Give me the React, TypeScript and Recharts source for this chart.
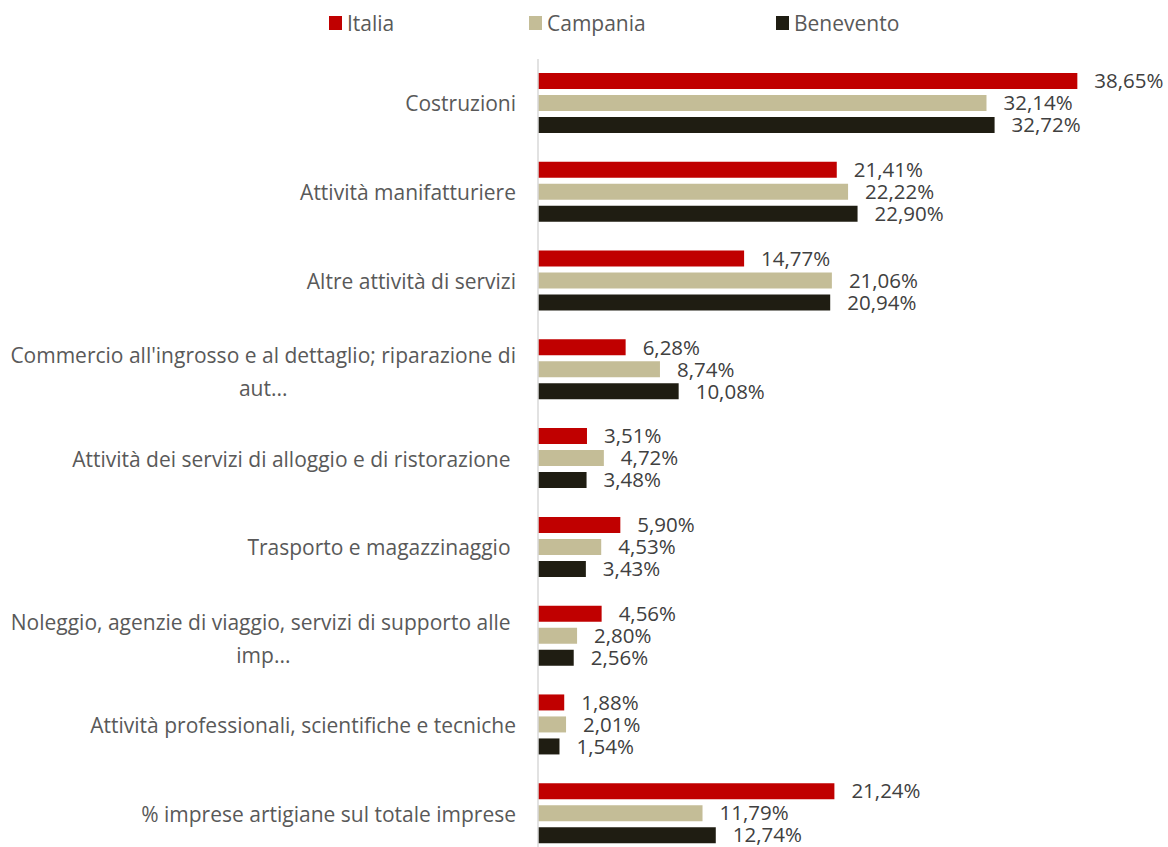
import React from "react"
import { BarChart, Bar, XAxis, YAxis, Legend, LabelList } from "recharts"

const categories = [
  "Costruzioni",
  "Attività manifatturiere",
  "Altre attività di servizi",
  "Commercio all'ingrosso e al dettaglio; riparazione di\naut...",
  "Attività dei servizi di alloggio e di ristorazione ",
  "Trasporto e magazzinaggio ",
  "Noleggio, agenzie di viaggio, servizi di supporto alle \nimp...",
  "Attività professionali, scientifiche e tecniche",
  "% imprese artigiane sul totale imprese",
]

const italia = [38.65, 21.41, 14.77, 6.28, 3.51, 5.9, 4.56, 1.88, 21.24]
const campania = [32.14, 22.22, 21.06, 8.74, 4.72, 4.53, 2.8, 2.01, 11.79]
const benevento = [32.72, 22.9, 20.94, 10.08, 3.48, 3.43, 2.56, 1.54, 12.74]

const seriesNames = ["Italia", "Campania", "Benevento"]
const colors = ["#c00000", "#c4bd97", "#1f1d12"]

const data = categories.map((name, i) => ({
  name,
  Italia: italia[i],
  Campania: campania[i],
  Benevento: benevento[i],
}))

const FONT = "'Open Sans', sans-serif"
const CAT_SIZE = 21
const VAL_SIZE = 20.5

let ctx: CanvasRenderingContext2D | null = null
function textWidth(s: string) {
  if (!ctx) {
    ctx = document.createElement("canvas").getContext("2d")
  }
  if (!ctx) return s.length * 10
  ctx.font = `${CAT_SIZE}px 'Open Sans'`
  return ctx.measureText(s).width
}

const fmt = (v: any) => Number(v).toFixed(2).replace(".", ",") + "%"

function CategoryTick(props: any) {
  const { x, y, payload } = props
  const lines = String(payload.value).split("\n")
  const common = {
    fontFamily: FONT,
    fontSize: CAT_SIZE,
    fill: "#595959",
    dominantBaseline: "central" as const,
    style: { whiteSpace: "pre" as const },
  }
  if (lines.length === 1) {
    return (
      <text x={x} y={y} textAnchor="end" {...common}>
        {lines[0]}
      </text>
    )
  }
  // wrapped label: block right-aligned to the axis, lines centred in it
  const blockW = Math.max(...lines.map(textWidth))
  const cx = x - blockW / 2
  const lh = 33
  const y0 = y + 2 - ((lines.length - 1) * lh) / 2
  return (
    <g>
      {lines.map((l, i) => (
        <text key={i} x={cx} y={y0 + i * lh} textAnchor="middle" {...common}>
          {l}
        </text>
      ))}
    </g>
  )
}

function LegendContent() {
  const widths = [200, 247, 200]
  return (
    <div style={{ height: 51, paddingLeft: 329, display: "flex", alignItems: "flex-start" }}>
      {seriesNames.map((s, i) => (
        <div key={s} style={{ width: widths[i], display: "flex", alignItems: "center", height: 30 }}>
          <span style={{ width: 13, height: 14, background: colors[i], display: "inline-block", marginRight: 5 }} />
          <span style={{ fontFamily: FONT, fontSize: CAT_SIZE, color: "#595959" }}>{s}</span>
        </div>
      ))}
    </div>
  )
}

export default function App() {
  return (
    <div style={{ position: "absolute", top: 0, left: 0, width: 1168, height: 847, overflow: "hidden", background: "#fff" }}>
      <BarChart
        width={1168}
        height={858}
        data={data}
        layout="vertical"
        margin={{ top: 8, right: 16, bottom: 0, left: 0 }}
        barGap={6}
        barSize={16}
      >
        <Legend verticalAlign="top" align="left" content={<LegendContent />} />
        <XAxis type="number" domain={[0, 44]} hide />
        <YAxis
          type="category"
          dataKey="name"
          width={538}
          interval={0}
          tickLine={false}
          tickMargin={16}
          axisLine={{ stroke: "#d9d9d9", strokeWidth: 1.5 }}
          tick={<CategoryTick />}
        />
        {seriesNames.map((s, i) => (
          <Bar key={s} dataKey={s} fill={colors[i]} isAnimationActive={false}>
            <LabelList
              dataKey={s}
              position="right"
              offset={17}
              formatter={fmt}
              style={{ fontFamily: FONT, fontSize: VAL_SIZE, fill: "#404040" }}
            />
          </Bar>
        ))}
      </BarChart>
    </div>
  )
}
